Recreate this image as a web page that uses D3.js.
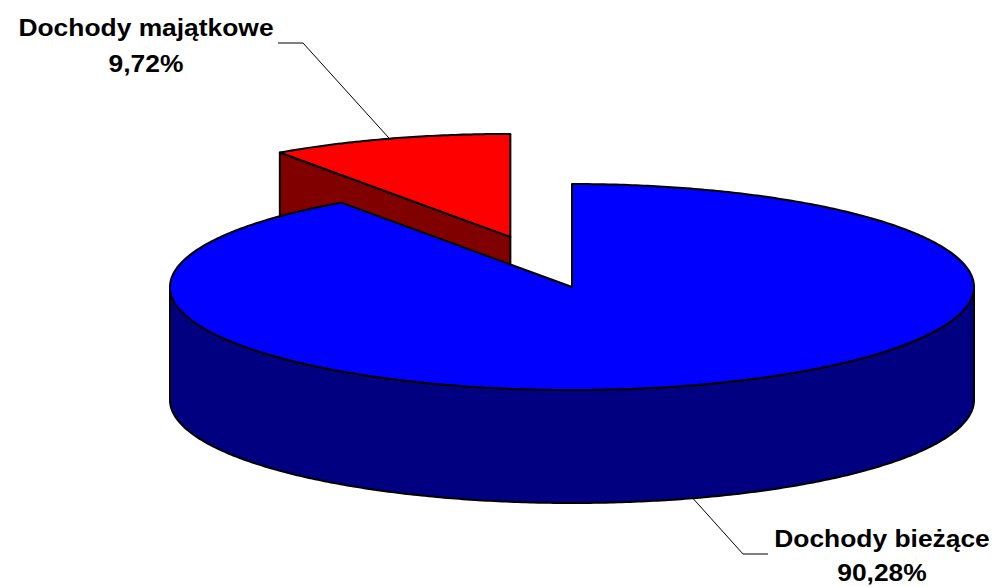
<!DOCTYPE html>
<html>
<head>
<meta charset="utf-8">
<script src="https://cdn.jsdelivr.net/npm/d3@7"></script>
<style>
  body { margin: 0; background: #fff; }
  svg { display: block; }
  .label { font-family: "Liberation Sans", Arial, sans-serif; font-weight: bold; font-size: 24px; fill: #000; }
  .leader { fill: none; stroke: #000; stroke-width: 1px; }
</style>
</head>
<body>
<div id="chart"></div>
<script>

// data

var categories = ["Dochody bieżące", "Dochody majątkowe"],
    shares = [90.28, 9.72],
    shareLabels = ["90,28%", "9,72%"];

var topColors = ["#0000ff", "#ff0000"],
    sideColors = ["#000080", "#800000"],
    explode = [0, 0.51];

// layout

var width = 1000,
    height = 587,
    cx = 572,
    cy = 287,
    rx = 402,
    ry = 103,
    depth = 113;

// label layout: elbow of the leader line, end of the horizontal stub, text centre and baselines

var labelLayout = [
  { elbow: [743, 554], stub: [768, 554], x: 882, y1: 547, y2: 581, rim: "bottom" },
  { elbow: [303, 43], stub: [278, 43], x: 146, y1: 36, y2: 72, rim: "top" }
];

var svg = d3.select("#chart").append("svg")
  .attr("width", width)
  .attr("height", height);

var pie = d3.pie()
  .value(function(d) { return d; })
  .sort(null);

var arcs = pie(shares);

// project angle (clockwise from 12 o'clock) onto the ellipse

function pt(ox, oy, a, h) {
  return [ox + rx * Math.sin(a), oy - ry * Math.cos(a) + (h || 0)];
}

function rimPoints(ox, oy, a0, a1, h) {
  var n = Math.max(2, Math.ceil(Math.abs(a1 - a0) / 0.01)),
      pts = [];
  for (var i = 0; i <= n; i++) pts.push(pt(ox, oy, a0 + (a1 - a0) * i / n, h));
  return pts;
}

var line = d3.line();

arcs.forEach(function(d, i) {
  var mid = (d.startAngle + d.endAngle) / 2;
  d.ox = cx + explode[i] * rx * Math.sin(mid);
  d.oy = cy - explode[i] * ry * Math.cos(mid);
  d.mid = mid;
  d.i = i;
});

// back slices first

var order = arcs.slice().sort(function(a, b) { return a.oy - b.oy; });

var g = svg.append("g");

order.forEach(function(d) {
  var i = d.i, a0 = d.startAngle, a1 = d.endAngle;
  var slice = g.append("g").attr("class", "slice");
  var faces = [];

  // radial cut faces
  if (Math.sin(a0) < -1e-6) faces.push(a0);
  if (Math.sin(a1) > 1e-6) faces.push(a1);
  faces.forEach(function(a) {
    var p = [[d.ox, d.oy], pt(d.ox, d.oy, a), pt(d.ox, d.oy, a, depth), [d.ox, d.oy + depth]];
    slice.append("path")
      .attr("d", line(p) + "Z")
      .attr("fill", sideColors[i])
      .attr("stroke", "#000")
      .attr("stroke-width", 2)
      .attr("stroke-linejoin", "round");
  });

  // front outer wall
  var f0 = Math.max(a0, Math.PI / 2),
      f1 = Math.min(a1, 3 * Math.PI / 2);
  if (f1 > f0) {
    var p = rimPoints(d.ox, d.oy, f0, f1, 0)
      .concat(rimPoints(d.ox, d.oy, f1, f0, depth));
    slice.append("path")
      .attr("d", line(p) + "Z")
      .attr("fill", sideColors[i])
      .attr("stroke", "#000")
      .attr("stroke-width", 2)
      .attr("stroke-linejoin", "round");
  }

  // top face
  var top = [[d.ox, d.oy]].concat(rimPoints(d.ox, d.oy, a0, a1, 0));
  slice.append("path")
    .attr("d", line(top) + "Z")
    .attr("fill", topColors[i])
    .attr("stroke", "#000")
    .attr("stroke-width", 2)
    .attr("stroke-linejoin", "round");
});

// leader lines and labels

arcs.forEach(function(d, i) {
  var L = labelLayout[i],
      anchor = pt(d.ox, d.oy, d.mid, L.rim === "bottom" ? depth : 0);

  svg.append("path")
    .attr("class", "leader")
    .attr("d", line([anchor, L.elbow, L.stub]));

  var t = svg.append("g")
    .attr("class", "label");

  t.append("text")
    .attr("transform", "translate(" + L.x + "," + L.y1 + ") scale(1.1,1)")
    .attr("text-anchor", "middle")
    .text(categories[i]);

  t.append("text")
    .attr("transform", "translate(" + L.x + "," + L.y2 + ") scale(1.1,1)")
    .attr("text-anchor", "middle")
    .text(shareLabels[i]);
});

</script>
</body>
</html>
